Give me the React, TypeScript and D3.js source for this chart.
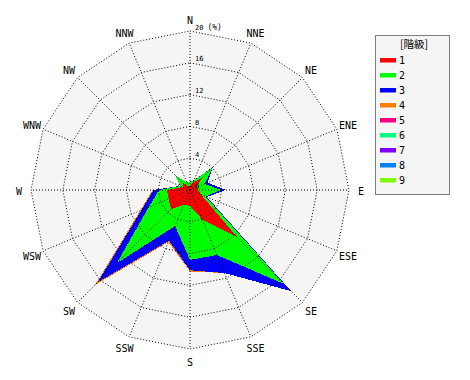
import React from 'react';
import * as d3 from 'd3';

const directions = ["N","NNE","NE","ENE","E","ESE","SE","SSE","S","SSW","SW","WSW","W","WNW","NW","NNW"];
const classNames = ["1","2","3","4","5","6","7","8","9"];
const classColors = ["#ff0000","#00ff00","#0000ff","#ff8000","#ff0080","#00ff80","#8000ff","#0080ff","#80ff00"];

// frequency (%) per class, per direction (N .. NNW)
const class1 = [0.5, 1.0, 2.2, 0.8, 1.0, 1.5, 8.3, 4.0, 2.0, 2.0, 3.4, 2.9, 2.9, 1.0, 1.3, 0.5];
const class2 = [0.5, 0.3, 1.8, 1.2, 2.9, 0.6, 8.4, 4.85, 6.8, 2.9, 9.6, 2.7, 1.0, 0.3, 1.3, 0.5];
const class3 = [0.05, 0.05, 0.1, 0.4, 0.6, 0.2, 1.3, 2.45, 1.3, 2.0, 3.4, 1.0, 0.7, 0.05, 0, 0];
const class4 = [0, 0, 0, 0, 0, 0, 0, 0, 0.15, 0.2, 0.5, 0.2, 0.1, 0, 0, 0];
const class5 = [0, 0, 0, 0, 0, 0, 0, 0, 0, 0, 0, 0, 0, 0, 0, 0];
const class6 = [0, 0, 0, 0, 0, 0, 0, 0, 0, 0, 0, 0, 0, 0, 0, 0];
const class7 = [0, 0, 0, 0, 0, 0, 0, 0, 0, 0, 0, 0, 0, 0, 0, 0];
const class8 = [0, 0, 0, 0, 0, 0, 0, 0, 0, 0, 0, 0, 0, 0, 0, 0];
const class9 = [0, 0, 0, 0, 0, 0, 0, 0, 0, 0, 0, 0, 0, 0, 0, 0];
const classValues = [class1, class2, class3, class4, class5, class6, class7, class8, class9];

const ringTicks = [4, 8, 12, 16, 20];
const tickLabels = ["0", "4", "8", "12", "16", "20"];
const tickValues = [0, 4, 8, 12, 16, 20];
const legendTitle = "[階級]";

export default function App() {
  const cx = 190, cy = 190;
  const rMax = 20;
  const r = d3.scaleLinear().domain([0, rMax]).range([0, 159]);
  const n = directions.length;
  const ang = (i: number) => (i * 2 * Math.PI) / n;

  const line = d3
    .lineRadial<number>()
    .angle((_d, i) => ang(i))
    .radius((d) => r(d))
    .curve(d3.curveLinearClosed);

  // cumulative stacks
  const cum: number[][] = [];
  classValues.forEach((vals, k) => {
    cum.push(vals.map((v, i) => v + (k > 0 ? cum[k - 1][i] : 0)));
  });

  const outer = directions.map(() => rMax);
  const mono = "'DejaVu Sans Mono', monospace";

  return (
    <svg width={470} height={380} style={{ position: 'absolute', left: 0, top: 0, background: '#fff' }}>
      <g transform={`translate(${cx},${cy})`}>
        <path d={line(outer) || ''} fill="#f5f5f5" />
        {cum
          .map((vals, k) => ({ vals, k }))
          .reverse()
          .map(({ vals, k }) => (
            <path key={k} d={line(vals) || ''} fill={classColors[k]} shapeRendering="crispEdges" />
          ))}
        {ringTicks.map((t) => (
          <path key={t} d={line(directions.map(() => t)) || ''} fill="none" stroke="#000" strokeWidth={1} strokeDasharray="1,2" />
        ))}
        {directions.map((d, i) => (
          <line
            key={d}
            x1={0}
            y1={0}
            x2={r(rMax) * Math.sin(ang(i))}
            y2={-r(rMax) * Math.cos(ang(i))}
            stroke="#000"
            strokeWidth={1}
            strokeDasharray="1,2"
          />
        ))}
        {tickValues.map((v, i) => (
          <text key={v} x={5} y={-r(v) - 1.5} fontFamily={mono} fontSize={7} fill="#000">
            {tickLabels[i]}
            {v === rMax ? <tspan dx={4} fontSize={8}>(%)</tspan> : null}
          </text>
        ))}
        {directions.map((d, i) => (
          <text
            key={d}
            x={171 * Math.sin(ang(i))}
            y={-171 * Math.cos(ang(i)) + 1}
            textAnchor="middle"
            dominantBaseline="central"
            fontFamily={mono}
            fontSize={10}
            fill="#000"
          >
            {d}
          </text>
        ))}
      </g>
      <g>
        <rect x={375.5} y={35.5} width={74} height={159} fill="#f5f5f5" stroke="#000" strokeDasharray="1,1" />
        <text x={400} y={48} fontFamily="'Noto Sans CJK JP', sans-serif" fontSize={10.5} fill="#000">
          {legendTitle}
        </text>
        {classNames.map((c, k) => (
          <g key={c}>
            <rect x={380} y={58 + k * 15} width={16} height={4.5} fill={classColors[k]} />
            <text x={399} y={63.8 + k * 15} fontFamily={mono} fontSize={10} fill="#000">
              {c}
            </text>
          </g>
        ))}
      </g>
    </svg>
  );
}
